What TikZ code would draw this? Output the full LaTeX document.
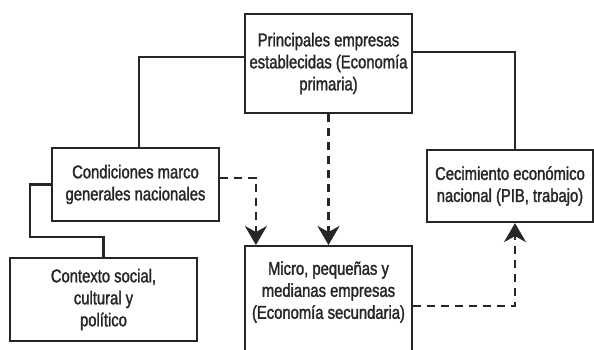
\documentclass[tikz,border=0pt]{standalone}
\usepackage{fontspec}
\setmainfont{Liberation Sans}[FakeStretch=0.8,FakeBold=1.6]
\usetikzlibrary{arrows.meta,calc}
\begin{document}
\begin{tikzpicture}[x=1pt,y=-1pt,
  box/.style={draw=black!85, line width=2.2pt, align=center, inner sep=0pt,
    font=\fontsize{18.5}{22}\selectfont, text=black!85},
  conn/.style={draw=black!85, line width=2.2pt},
  dconn/.style={draw=black!85, line width=2.2pt, dash pattern=on 8pt off 6pt,
    -{Stealth[length=19pt,width=22pt,inset=6pt]}},
  txt/.style={align=center, inner sep=0pt, font=\fontsize{18.5}{22}\selectfont, text=black!85}]
\useasboundingbox (0,0) rectangle (594,349);
\clip (0,0) rectangle (594,349);
\node[box, minimum width=167, minimum height=99] (p) at (328.5,63.5)
  {Principales empresas\\establecidas (Economía\\primaria)};
\node[box, minimum width=167, minimum height=73] (cond) at (135.5,184.5)
  {Condiciones marco\\generales nacionales};
\node[box, minimum width=187, minimum height=83] (ctx) at (103.5,299.5)
  {Contexto social,\\cultural y\\político};
\node[box, minimum width=167, minimum height=112, anchor=north] (micro) at (328.5,245) {};
\node[txt] (microtxt) at (328.5,292)
  {Micro, pequeñas y\\medianas empresas\\(Economía secundaria)};
\node[box, minimum width=166, minimum height=72] (cec) at (510,186)
  {Cecimiento económico\\nacional (PIB, trabajo)};
\coordinate (k) at (30,237);
\draw[conn] ([yshift=6.5pt]p.west) -| ([xshift=3.5pt]cond.north);
\draw[conn] ([yshift=11.5pt]p.east) -| ([xshift=5pt]cec.north);
\draw[conn] (cond.west) -| (k) -| (ctx.north);
\draw[dconn] (p.south) -- (micro.north);
\draw[dconn] ([yshift=6.5pt]cond.east) -| ([xshift=12pt]micro.north west);
\draw[dconn] ([yshift=-4pt]micro.east) -| ([xshift=5pt]cec.south);
\end{tikzpicture}
\end{document}
